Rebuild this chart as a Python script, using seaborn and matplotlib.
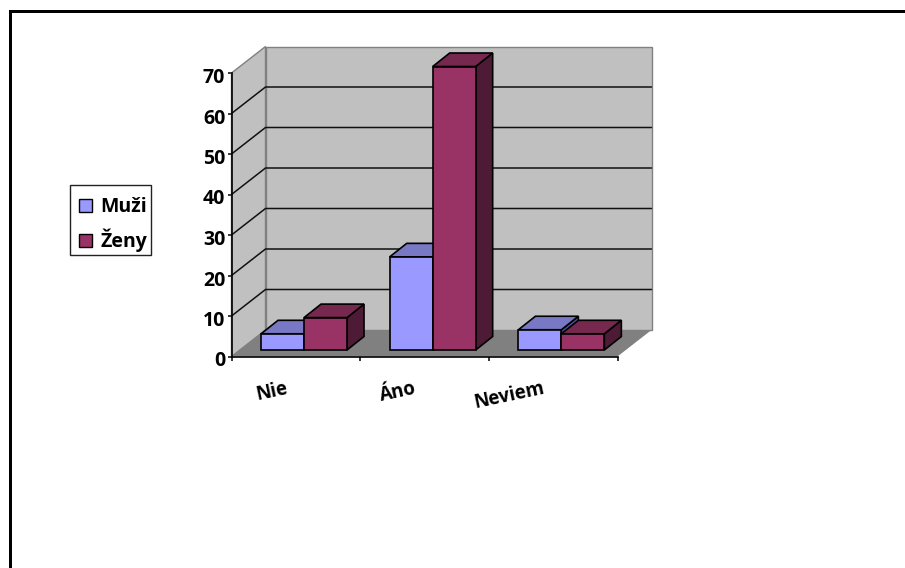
import matplotlib
matplotlib.use("Agg")
import matplotlib.pyplot as plt
from matplotlib.patches import Patch, Polygon, Rectangle
from matplotlib.transforms import ScaledTranslation
import pandas as pd
import seaborn as sns

categories = ["Nie", "Áno", "Neviem"]
muzi = [4, 23, 5]
zeny = [8, 70, 4]
series_names = ["Muži", "Ženy"]
y_ticks = [0, 10, 20, 30, 40, 50, 60, 70]

FRONT = {"Muži": "#9999FF", "Ženy": "#993366"}
TOP = {"Muži": "#7878C4", "Ženy": "#76284F"}
SIDE = {"Muži": "#50509A", "Ženy": "#4E1B36"}
WALL = "#C0C0C0"
FLOOR = "#808080"

W, H, DPI = 905, 568, 100
sns.set_theme(style="white")
plt.rcParams["font.family"] = ["Open Sans", "DejaVu Sans"]
plt.rcParams["font.weight"] = "bold"
plt.rcParams["text.color"] = "black"
plt.rcParams["xtick.labelcolor"] = "black"
plt.rcParams["ytick.labelcolor"] = "black"

fig = plt.figure(figsize=(W / DPI, H / DPI), dpi=DPI, facecolor="white")

# Page rule along the top and left edges
fig.add_artist(Rectangle((9 / W, 0), 3 / W, 1 - 10 / H, transform=fig.transFigure,
                         facecolor="black", edgecolor="none"))
fig.add_artist(Rectangle((9 / W, 1 - 13 / H), 1 - 9 / W, 3 / H, transform=fig.transFigure,
                         facecolor="black", edgecolor="none"))

# The axes span the front plane of the 3D box
x0, x1, y0, y1 = 231.5, 617.5, 356.5, 73.0
ax = fig.add_axes([x0 / W, 1 - y0 / H, (x1 - x0) / W, (y0 - y1) / H])
ax.patch.set_visible(False)

df = pd.DataFrame({
    "category": categories * 2,
    "series": [series_names[0]] * 3 + [series_names[1]] * 3,
    "value": muzi + zeny,
})
sns.barplot(data=df, x="category", y="value", hue="series", hue_order=series_names,
            palette=FRONT, saturation=1, width=0.668, gap=0, legend=False,
            edgecolor="black", linewidth=1.2, ax=ax, zorder=5)
ax.set_xlim(-0.5, 2.5)
ax.set_ylim(0, 70)
ax.set_xlabel("")
ax.set_ylabel("")

px_x = (x1 - x0) / 3
px_y = (y0 - y1) / 70
wall_dx, wall_dy = 34 / px_x, 26.5 / px_y

# Walls and floor of the box, in data units
edge = dict(edgecolor=FLOOR, linewidth=1.0, clip_on=False, joinstyle="miter")
ax.add_patch(Polygon([(-0.5, 0), (-0.5 + wall_dx, wall_dy), (-0.5 + wall_dx, 70 + wall_dy), (-0.5, 70)],
                     facecolor=WALL, zorder=1, **edge))
ax.add_patch(Polygon([(-0.5 + wall_dx, wall_dy), (2.5 + wall_dx, wall_dy),
                      (2.5 + wall_dx, 70 + wall_dy), (-0.5 + wall_dx, 70 + wall_dy)],
                     facecolor=WALL, zorder=1, **edge))
ax.add_patch(Polygon([(-0.5, 0), (2.5, 0), (2.5 + wall_dx, wall_dy), (-0.5 + wall_dx, wall_dy)],
                     facecolor=FLOOR, edgecolor="none", clip_on=False, zorder=2))
for v in y_ticks[1:-1]:
    ax.plot([-0.5, -0.5 + wall_dx, 2.5 + wall_dx], [v, v + wall_dy, v + wall_dy],
            color="#111111", lw=1.1, clip_on=False, zorder=3, solid_joinstyle="miter")

# Bars stand partway into the box; depth faces are added behind each front face
shift = ScaledTranslation(8.2 / DPI, 6.5 / DPI, fig.dpi_scale_trans)
bar_dx, bar_dy = 17 / px_x, 13.5 / px_y
face = dict(edgecolor="black", linewidth=1.2, clip_on=False, joinstyle="miter",
            transform=ax.transData + shift)
z = 5.0
for pos in range(len(categories)):
    for name, container in zip(series_names, ax.containers):
        bar = container[pos]
        left, right, top = bar.get_x(), bar.get_x() + bar.get_width(), bar.get_height()
        ax.add_patch(Polygon([(right, 0), (right + bar_dx, bar_dy), (right + bar_dx, top + bar_dy), (right, top)],
                             facecolor=SIDE[name], zorder=z, **face))
        ax.add_patch(Polygon([(left, top), (left + bar_dx, top + bar_dy), (right + bar_dx, top + bar_dy), (right, top)],
                             facecolor=TOP[name], zorder=z + 0.1, **face))
        bar.set_transform(ax.transData + shift)
        bar.set_clip_on(False)
        bar.set_zorder(z + 0.2)
        z += 1

# Axis lines, ticks and labels
sns.despine(ax=ax, top=True, right=True)
for side in ("left", "bottom"):
    ax.spines[side].set_color("black")
    ax.spines[side].set_linewidth(1.2)
    ax.spines[side].set_zorder(40)
ax.set_yticks(y_ticks)
ax.set_xticks([-0.5, 0.5, 1.5, 2.5], minor=True)
ax.set_xticks(range(len(categories)), labels=categories)
ax.tick_params(axis="x", which="major", length=0, pad=23, labelsize=13.5, labelcolor="black")
ax.tick_params(axis="x", which="minor", length=3, width=1.1, color="black", bottom=True)
ax.tick_params(axis="y", length=3, width=1.1, color="black", left=True, pad=1.5, labelsize=14, labelcolor="black")
label_shift = ScaledTranslation(-8.5 / DPI, 0, fig.dpi_scale_trans)
for label in ax.get_xticklabels():
    label.set_rotation(12)
    label.set_rotation_mode("anchor")
    label.set_ha("right")
    label.set_va("center")
    label.set_fontweight("bold")
    label.set_transform(label.get_transform() + label_shift)
y_label_shift = ScaledTranslation(0, -2.5 / DPI, fig.dpi_scale_trans)
for label in ax.get_yticklabels():
    label.set_fontweight("bold")
    label.set_transform(label.get_transform() + y_label_shift)

# Legend box left of the chart: a drawn frame with the entries set inside it
fig.add_artist(Rectangle((70 / W, 1 - 255 / H), 81 / W, 70 / H, transform=fig.transFigure,
                         facecolor="white", edgecolor="#222222", linewidth=1.0))
handles = [Patch(facecolor=FRONT[n], edgecolor="black", linewidth=1.0, label=n) for n in series_names]
legend = fig.legend(handles=handles, loc="upper left", bbox_to_anchor=(71 / W, 1 - 189 / H),
                    frameon=False, prop={"size": 14, "weight": "bold"},
                    handlelength=0.68, handleheight=0.68, handletextpad=0.4,
                    labelspacing=0.6, borderpad=0.42, borderaxespad=0)

fig.savefig("out.png", dpi=DPI, facecolor="white")
